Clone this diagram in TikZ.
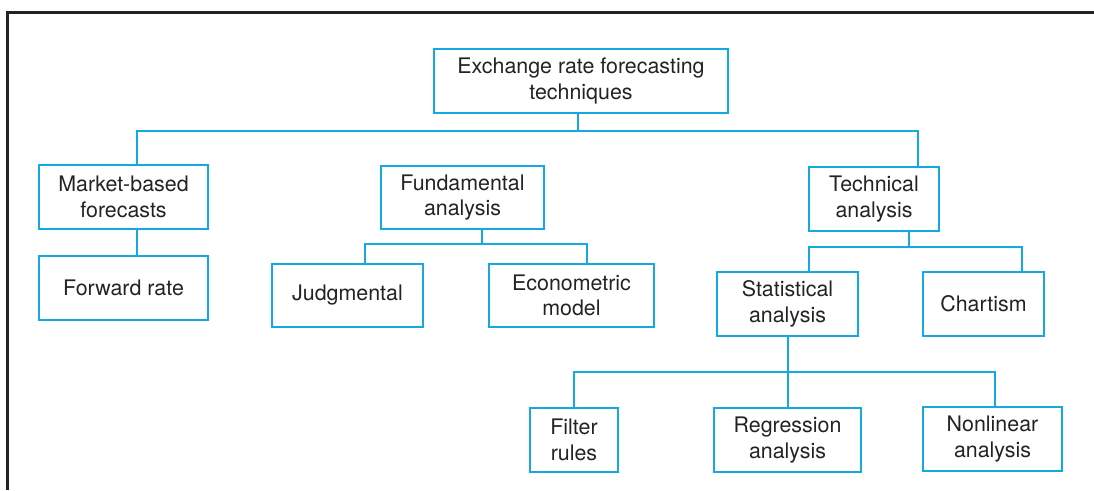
\documentclass[tikz,border=0pt]{standalone}
\usepackage{fontspec}
\setmainfont{TeX Gyre Heros}
\definecolor{lineblue}{RGB}{20,170,225}
\definecolor{txt}{RGB}{35,35,35}
\definecolor{frame}{RGB}{35,35,35}
\begin{document}
\begin{tikzpicture}[x=1pt,y=-1pt,
  box/.style={draw=lineblue,line width=1.4pt,rectangle,inner sep=0pt,align=center,
    text=txt,font=\fontsize{21.4}{25.5}\selectfont},
  conn/.style={draw=lineblue,line width=1.4pt}]
\useasboundingbox (0,0) rectangle (1094,490);
\draw[frame,line width=3pt] (7,490) -- (7,12) -- (1094,12);

\node[box,minimum width=294pt,minimum height=64pt] (root) at (581,81) {Exchange rate forecasting\\techniques};
\node[box,minimum width=169pt,minimum height=64pt] (mkt) at (123.5,197) {Market-based\\forecasts};
\node[box,minimum width=169pt,minimum height=64pt] (fwd) at (123.5,288) {Forward rate};
\node[box,minimum width=163pt,minimum height=63pt] (fund) at (462.5,197.5) {Fundamental\\analysis};
\node[box,minimum width=151pt,minimum height=63pt] (judg) at (347.5,295.5) {Judgmental};
\node[box,minimum width=165pt,minimum height=63pt] (econ) at (571.5,295.5) {Econometric\\model};
\node[box,minimum width=130pt,minimum height=64pt] (tech) at (874,199) {Technical\\analysis};
\node[box,minimum width=141pt,minimum height=64pt] (stat) at (787.5,304) {Statistical\\analysis};
\node[box,minimum width=121pt,minimum height=64pt] (chart) at (983.5,304) {Chartism};
\node[box,minimum width=88pt,minimum height=64pt] (filt) at (574,440) {Filter\\rules};
\node[box,minimum width=147pt,minimum height=64pt] (regr) at (787.5,440) {Regression\\analysis};
\node[box,minimum width=139pt,minimum height=64pt] (nonl) at (992.5,439) {Nonlinear\\analysis};

\coordinate (b1) at (578,131);
\coordinate (b2) at (482,244);
\coordinate (b3) at (909,247);
\coordinate (b4) at (788,372);

% level 1
\draw[conn] (root.south -| b1) -- (b1);
\draw[conn] (mkt.north -| 137,0) |- (b1) -| (tech.north -| 918,0);
\draw[conn] (fund.north -| b2) -- (fund.north -| b2 |- b1);
% market
\draw[conn] (mkt.south -| 137,0) -- (fwd.north -| 137,0);
% fundamental
\draw[conn] (fund.south -| b2) -- (b2);
\draw[conn] (judg.north -| 365,0) |- (b2) -| (econ.north -| 587,0);
% technical
\draw[conn] (tech.south -| b3) -- (b3);
\draw[conn] (stat.north -| 809,0) |- (b3) -| (chart.north -| 1022,0);
% statistical
\draw[conn] (stat.south -| b4) -- (regr.north -| b4);
\draw[conn] (filt.north -| 574,0) |- (b4) -| (nonl.north -| 995,0);
\end{tikzpicture}
\end{document}
